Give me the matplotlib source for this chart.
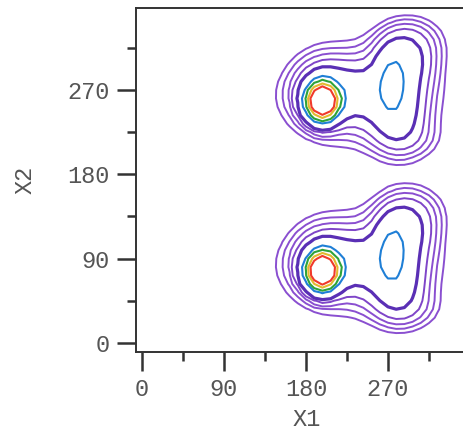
import numpy as np
import matplotlib
matplotlib.use('Agg')
import matplotlib.pyplot as plt

plt.rcParams['font.family'] = 'Liberation Mono'

# Gaussian components of one blob (data units)
#            main  island  right-up right-low bridge above  up-right low-right broad  main-base
comp_x   = [198,   274,    288,     280,      225,   195,   300,     295,      250,   200]
comp_y   = [258,   277,    300,     245,      268,   285,   325,     215,      268,   258]
comp_amp = [0.90,  0.12,   0.08,    0.08,     0.06,  0.02,  0.025,   0.02,     0.045, 0.03]
comp_sx  = [10.5,  11,     20,      20,       30,    20,    25,      25,       55,    35]
comp_sy  = [12,    22,     22,      25,       18,    20,    18,      15,       40,    28]

# the same blob appears twice, shifted in X2
blob_shift_y = [0, -181]

levels = [0.02, 0.028, 0.038, 0.052, 0.08, 0.18, 0.26, 0.38, 0.50]
level_colors = ['#8a4fd0', '#8a4fd0', '#8a4fd0', '#7f45c8', '#5a2fb5',
                '#1f7fd6', '#2ea33a', '#e3b92e', '#f03a2a']
level_widths = [1.4, 1.4, 1.4, 1.4, 2.3, 1.5, 1.5, 1.5, 1.5]

ticks = [0, 90, 180, 270]
minor_ticks = [45, 135, 225, 315]

# grid of the density
step = 9
gx = np.arange(0, 361, step)
gy = np.arange(0, 361, step)
X, Y = np.meshgrid(gx, gy)
Z = np.zeros_like(X, dtype=float)
for dy in blob_shift_y:
    for cx, cy, a, sx, sy in zip(comp_x, comp_y, comp_amp, comp_sx, comp_sy):
        Z += a * np.exp(-((X - cx) ** 2) / (2 * sx ** 2) - ((Y - cy - dy) ** 2) / (2 * sy ** 2))

fig = plt.figure(figsize=(4.64, 4.32), dpi=100)
ax = fig.add_axes([0.2931, 0.1852, 0.737, 0.7963])

ax.contour(X, Y, Z, levels=levels, colors=level_colors, linewidths=level_widths)

ax.set_xlim(-6.6, 368.8)
ax.set_ylim(-9.6, 357.5)

ax.set_xticks(ticks)
ax.set_yticks(ticks)
ax.set_xticks(minor_ticks, minor=True)
ax.set_yticks(minor_ticks, minor=True)

for s in ax.spines.values():
    s.set_color('#333333')
    s.set_linewidth(1.4)

ax.tick_params(which='major', direction='out', length=14, width=1.8,
               color='#333333', labelsize=17, labelcolor='#555555', pad=5)
ax.tick_params(which='minor', direction='out', length=6.5, width=1.8,
               color='#333333')

ax.set_xlabel('X1', fontsize=17, color='#555555', labelpad=5)
ax.set_ylabel('X2', fontsize=17, color='#555555', labelpad=22)

fig.savefig('out.png', dpi=100)
